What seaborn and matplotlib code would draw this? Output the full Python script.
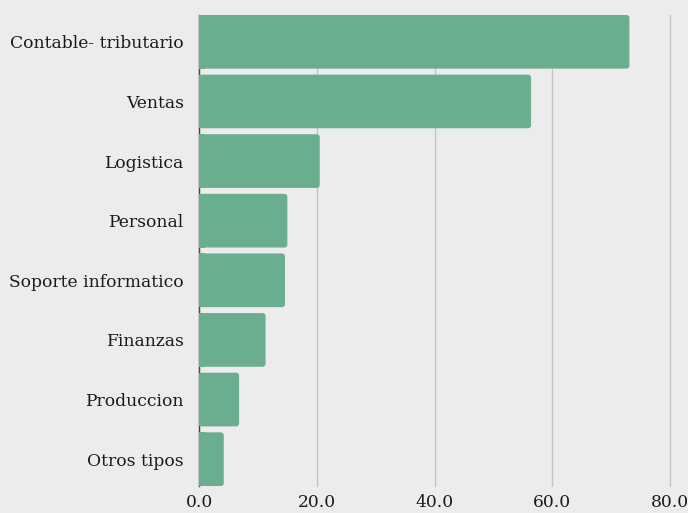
import matplotlib
matplotlib.use("Agg")
import matplotlib.pyplot as plt
import seaborn as sns
import pandas as pd
from matplotlib.patches import FancyBboxPatch

categories = ["Contable- tributario", "Ventas", "Logistica", "Personal",
              "Soporte informatico", "Finanzas", "Produccion", "Otros tipos"]
values = [73.1, 56.4, 20.5, 15.0, 14.6, 11.3, 6.8, 4.2]
xticks = [0, 20, 40, 60, 80]
xtick_labels = ["0.0", "20.0", "40.0", "60.0", "80.0"]

df = pd.DataFrame({"cat": categories, "val": values})

sns.set_theme(style="white")
plt.rcParams["font.family"] = ["DejaVu Serif"]

bg = "#ececec"
fig = plt.figure(figsize=(6.88, 5.13), dpi=100, facecolor=bg)
ax = fig.add_axes([0.2893, 0.0526, 0.6846, 0.9182])
ax.set_facecolor(bg)

sns.barplot(data=df, x="val", y="cat", color="#6aae8f", saturation=1,
            width=0.9, ax=ax, zorder=3)

# rounded right corners
for p in list(ax.patches):
    x0, y0 = p.get_x(), p.get_y()
    w, h = p.get_width(), p.get_height()
    fc = p.get_facecolor()
    fb = FancyBboxPatch((x0, y0), w, h,
                        boxstyle="round,pad=0,rounding_size=0.5",
                        mutation_aspect=0.1,
                        facecolor=fc, edgecolor="none", zorder=3)
    p.remove()
    ax.add_patch(fb)
    ax.add_patch(plt.Rectangle((x0, y0), min(w, 1.0), h,
                               facecolor=fc, edgecolor="none", zorder=3))

ax.set_xlim(0, 80)
ax.set_ylim(7.45, -0.45)
ax.set_xticks(xticks)
ax.set_xticklabels(xtick_labels)
ax.set_xlabel("")
ax.set_ylabel("")
ax.xaxis.grid(True, color="#c4c4c4", linewidth=1, zorder=0)
for gl in ax.get_xgridlines():
    gl.set_clip_on(False)
ax.set_axisbelow(True)
for s in ["top", "right", "bottom"]:
    ax.spines[s].set_visible(False)
ax.spines["left"].set_color("#444444")
ax.spines["left"].set_linewidth(1)
ax.spines["left"].set_zorder(2)
ax.tick_params(axis="both", length=0, labelsize=12.3, colors="#1a1a1a")
ax.tick_params(axis="y", pad=11)
ax.tick_params(axis="x", pad=6)

fig.savefig("out.png", dpi=100, facecolor=bg)
